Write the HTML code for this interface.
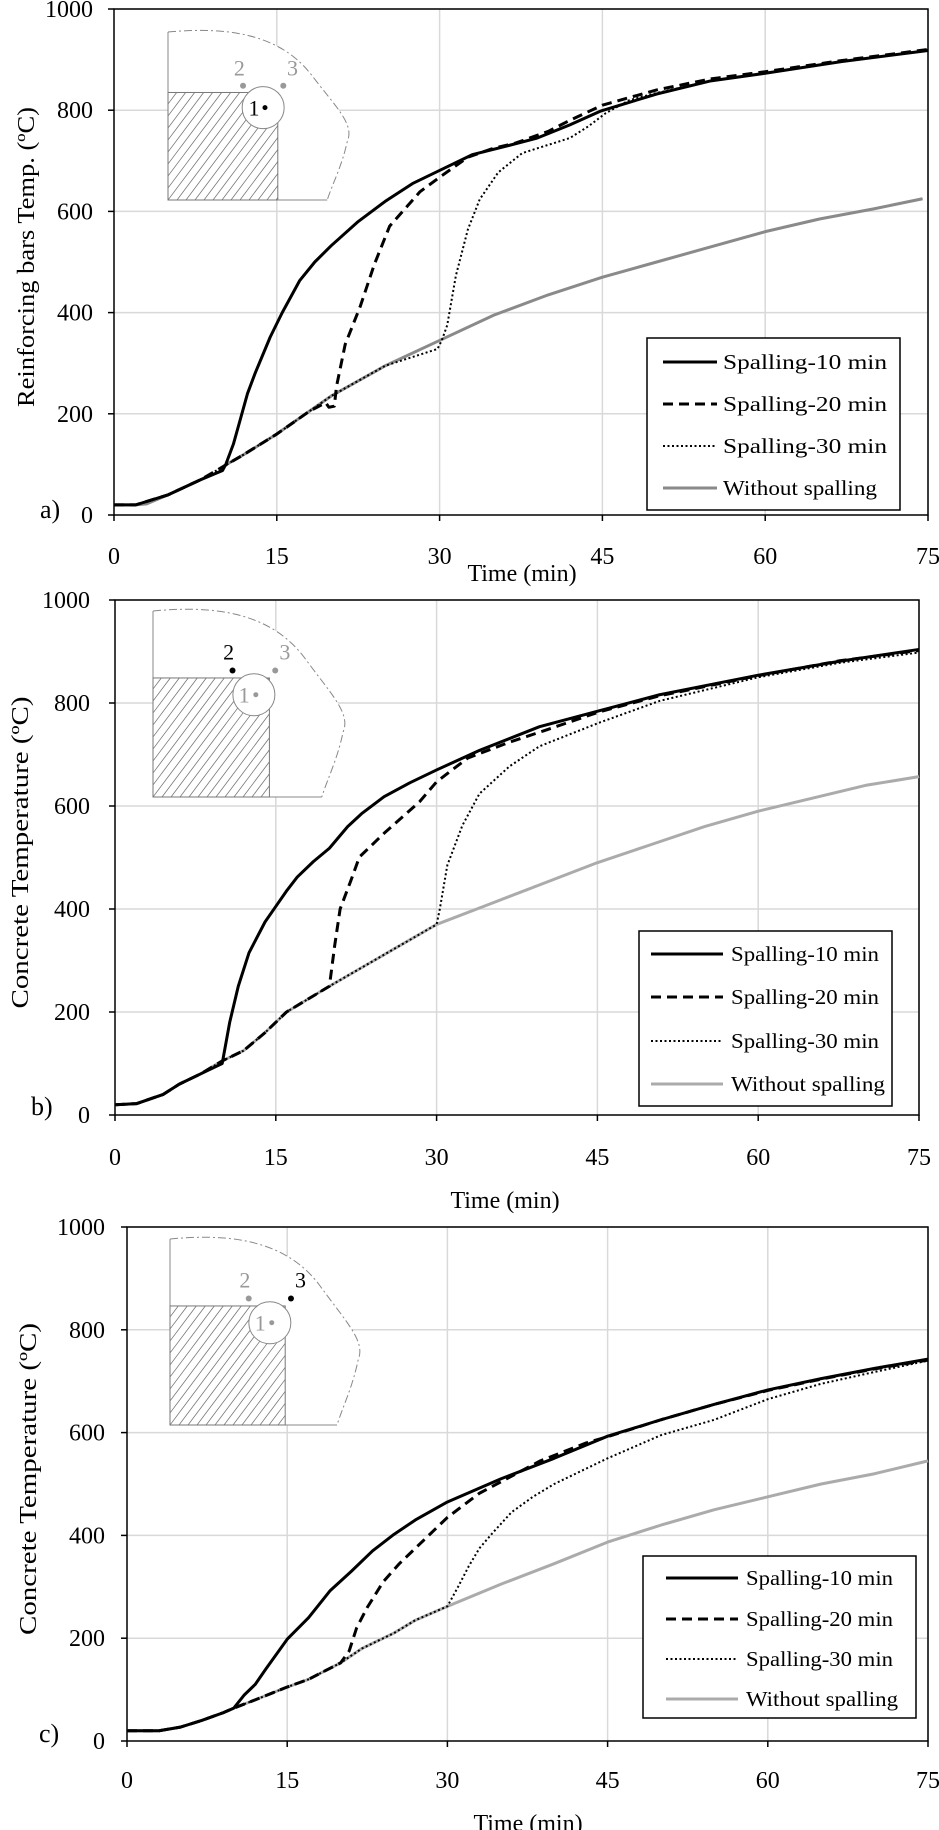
<!DOCTYPE html>
<html><head><meta charset="utf-8"><style>
html,body{margin:0;padding:0;background:#fff;}
svg{display:block;font-family:"Liberation Serif",serif;}
</style></head><body>
<svg id="fig" width="939" height="1830" viewBox="0 0 939 1830"></svg>
<script>
// ---- data (time min, temperature °C) ----
const timeTicks = [0,15,30,45,60,75];
const tempTicks = [0,200,400,600,800,1000];
const seriesNames = ["Spalling-10 min","Spalling-20 min","Spalling-30 min","Without spalling"];

const aS10 = [[0,20],[2,20],[5,40],[8,70],[10,88],[10.3,100],[11,140],[11.6,186],[12.3,240],[13,280],[14.4,352],[15.5,400],[17.1,463],[18.5,500],[20,532],[22.5,580],[25,620],[27.5,655],[30,681],[33,712],[36.5,731],[39,745],[42,771],[44.8,798],[50,832],[55,858],[60,873],[67,896],[75,918]];
const aS20 = [[0,20],[2,20],[5,40],[8,70],[10,95],[12,120],[15,160],[18,205],[19.5,222],[19.8,213],[20.3,215],[20.5,254],[21.3,337],[22.7,413],[24,496],[25.4,571],[28.2,639],[30.1,669],[32.6,707],[35,725],[37,735],[40,758],[42,780],[45,810],[50,840],[55,862],[60,876],[67,898],[75,920]];
const aS30 = [[0,20],[2,20],[5,40],[8,70],[10,95],[12,120],[15,160],[18,205],[20,235],[25,295],[29.8,328],[30.2,345],[30.7,375],[31.5,473],[32.6,564],[33.7,624],[35.4,677],[37.6,715],[39.2,726],[42,745],[43.7,768],[45.3,794],[47.5,820],[50,834],[55,858],[60,873],[67,896],[75,918]];
const aNo = [[0,20],[2,20],[3,22],[5,40],[8,70],[10,88],[10.2,98],[12,120],[15,160],[18,205],[20,235],[25,295],[30,345],[35,395],[40,435],[45,470],[50,500],[55,530],[60,560],[65,585],[70,605],[74.5,625]];

const bS10 = [[0,20],[2,22],[4.5,40],[6,60],[8,80],[10,100],[10.7,180],[11.5,250],[12.5,315],[14,375],[15,405],[16,435],[17,462],[18.5,492],[20,518],[21.7,560],[23,585],[25.1,618],[27.5,645],[30,670],[34,708],[39.6,754],[45.2,785],[50.8,816],[60,854],[67.6,881],[75,904]];
const bS20 = [[0,20],[2,22],[4.5,40],[6,60],[8,80],[10,105],[12,125],[14,160],[16,200],[20,250],[20.5,330],[21,400],[22,455],[22.8,501],[25.1,547],[28.4,608],[30,647],[32.9,693],[36.8,724],[40,746],[45.2,783],[50.8,814],[60,853],[67.6,882],[75,902]];
const bS30 = [[0,20],[2,22],[4.5,40],[6,60],[8,80],[10,105],[12,125],[14,160],[16,200],[20,250],[25,310],[30,370],[30.3,400],[31,485],[32.4,562],[34,624],[36.8,677],[39.6,716],[45.2,762],[50.8,804],[60,850],[67.6,878],[75,898]];
const bNo = [[0,20],[2,22],[4.5,40],[6,60],[8,80],[10,105],[12,125],[14,160],[16,200],[20,250],[25,310],[30,370],[35,410],[40,450],[45,490],[50,525],[55,560],[60,590],[65,615],[70,640],[75,657]];

const cS10 = [[0,20],[3,20],[5,27],[7,40],[9,55],[10,64],[11,90],[12,110],[13,140],[15,198],[17,240],[19,292],[21,330],[23,370],[25,402],[27,430],[30,465],[35,510],[40,550],[45,593],[50,625],[55,655],[60,683],[65,705],[70,725],[75,743]];
const cS20 = [[0,20],[3,20],[5,27],[7,40],[9,55],[10,64],[12,80],[15,105],[17,120],[20,152],[20.8,175],[21.5,220],[22.5,260],[24,310],[25.5,345],[26.9,373],[30,435],[33,482],[38.7,545],[43,580],[45,592],[50,625],[55,655],[60,682],[65,704],[70,724],[75,741]];
const cS30 = [[0,20],[3,20],[5,27],[7,40],[9,55],[10,64],[12,80],[15,105],[17,120],[20,152],[22,180],[25,210],[27,235],[30,262],[31,300],[32,340],[33,375],[34.2,404],[36,445],[38,475],[40,500],[45,550],[50,595],[55,625],[60,665],[65,695],[70,718],[75,740]];
const cNo = [[0,20],[3,20],[5,27],[7,40],[9,55],[10,64],[12,80],[15,105],[17,120],[20,152],[22,180],[25,210],[27,235],[30,262],[35,305],[40,345],[45,387],[50,420],[55,450],[60,475],[65,500],[70,520],[75,545]];

const NS="http://www.w3.org/2000/svg";
const svg=document.getElementById('fig');
function mk(tag,attrs,parent){const e=document.createElementNS(NS,tag);for(const k in attrs)e.setAttribute(k,attrs[k]);(parent||svg).appendChild(e);return e;}

const charts=[
 {id:'a',x0:114,x1:928,y0:515,y1:9,grayCol:'#8a8a8a',data:[aS10,aS20,aS30,aNo],
  ytitle:'Reinforcing bars Temp. (ºC)',ytx:26,ytlen:300,ylabR:93,xtickY:556,xtitleY:573,xtitleX:522,
  letter:'a)',lx:40,ly:514,
  leg:{x:647,y:338,w:253,h:172,lx0:663,lx1:717,tx:723,rows:[362,404,446,488],tl:[164,164,164,154]},
  inset:{x:168,y:32,w:183,h:168,cols:['#000','#999','#999']}},
 {id:'b',x0:115,x1:919,y0:1115,y1:600,grayCol:'#ababab',data:[bS10,bS20,bS30,bNo],
  ytitle:'Concrete Temperature (ºC)',ytx:20,ytlen:312,ylabR:90,xtickY:1157,xtitleY:1200,xtitleX:505,
  letter:'b)',lx:31,ly:1111,
  leg:{x:639,y:931,w:253,h:175,lx0:651,lx1:723,tx:731,rows:[954,997,1041,1084],tl:[148,148,148,154]},
  inset:{x:153,y:611,w:194,h:186,cols:['#999','#000','#999']}},
 {id:'c',x0:127,x1:928,y0:1741,y1:1227,grayCol:'#ababab',data:[cS10,cS20,cS30,cNo],
  ytitle:'Concrete Temperature (ºC)',ytx:28,ytlen:312,ylabR:105,xtickY:1780,xtitleY:1823,xtitleX:528,
  letter:'c)',lx:39,ly:1738,
  leg:{x:643,y:1556,w:273,h:162,lx0:666,lx1:738,tx:746,rows:[1578,1619,1659,1699],tl:[147,147,147,152]},
  inset:{x:170,y:1239,w:192,h:186,cols:['#999','#999','#000']}}
];

charts.forEach(c=>{
 const g=mk('g',{});
 
 
 const X=t=>c.x0+(t-0)/75*(c.x1-c.x0);
 const Y=v=>c.y0-(v/1000)*(c.y0-c.y1);
 tempTicks.forEach(v=>{if(v>0){const l=mk('line',{x1:c.x0,x2:c.x1,y1:Y(v),y2:Y(v),stroke:'#d9d9d9','stroke-width':1.5},g);
  }});
 timeTicks.forEach(t=>{if(t>0){const l=mk('line',{x1:X(t),x2:X(t),y1:c.y1,y2:c.y0,stroke:'#d9d9d9','stroke-width':1.5},g);
  }});
 const I=c.inset, ig=mk('g',{},g);
 
 const px=f=>I.x+f*I.w, py=f=>I.y+f*I.h;
 mk('path',{d:`M${px(0)},${py(0)} C${px(0.3)},${py(-0.03)} ${px(0.6)},${py(0)} ${px(0.78)},${py(0.25)} C${px(0.92)},${py(0.45)} ${px(1.02)},${py(0.55)} ${px(0.98)},${py(0.65)} C${px(0.95)},${py(0.8)} ${px(0.9)},${py(0.9)} ${px(0.87)},${py(1)} L${px(0)},${py(1)} Z`,fill:'#fff',stroke:'none'},ig);
 mk('path',{d:`M${px(0)},${py(0)} C${px(0.3)},${py(-0.03)} ${px(0.6)},${py(0)} ${px(0.78)},${py(0.25)} C${px(0.92)},${py(0.45)} ${px(1.02)},${py(0.55)} ${px(0.98)},${py(0.65)} C${px(0.95)},${py(0.8)} ${px(0.9)},${py(0.9)} ${px(0.87)},${py(1)}`,fill:'none',stroke:'#888','stroke-width':1,'stroke-dasharray':'8 3 2 3'},ig);
 mk('line',{x1:px(0),y1:py(0),x2:px(0),y2:py(1),stroke:'#888','stroke-width':1},ig);
 mk('line',{x1:px(0),y1:py(1),x2:px(0.87),y2:py(1),stroke:'#888','stroke-width':1},ig);
 const clipId='clip'+c.id;
 const cp=mk('clipPath',{id:clipId},ig);mk('rect',{x:px(0),y:py(0.36),width:px(0.6)-px(0),height:py(1)-py(0.36)},cp);
 const hg=mk('g',{'clip-path':`url(#${clipId})`},ig);
 for(let k=-20;k<20;k++){const x=px(0)+k*9;mk('line',{x1:x,y1:py(1),x2:x+(py(1)-py(0.36))*0.75,y2:py(0.36),stroke:'#777','stroke-width':0.8},hg);}
 mk('rect',{x:px(0),y:py(0.36),width:px(0.6)-px(0),height:py(1)-py(0.36),fill:'none',stroke:'#777','stroke-width':1},ig);
 mk('ellipse',{cx:px(0.52),cy:py(0.45),rx:21,ry:21,fill:'#fff',stroke:'#888','stroke-width':1},ig);
 mk('circle',{cx:px(0.53),cy:py(0.45),r:2.5,fill:I.cols[0]},ig);
 mk('circle',{cx:px(0.41),cy:py(0.32),r:3,fill:I.cols[1]},ig);
 mk('circle',{cx:px(0.63),cy:py(0.32),r:3,fill:I.cols[2]},ig);
 const t1=mk('text',{x:px(0.47),y:py(0.45)+8,'font-size':22,'text-anchor':'middle',fill:I.cols[0]==='#000'?'#000':'#999'},ig);t1.textContent='1';
 const t2=mk('text',{x:px(0.39),y:py(0.26),'font-size':22,'text-anchor':'middle',fill:I.cols[1]},ig);t2.textContent='2';
 const t3=mk('text',{x:px(0.68),y:py(0.26),'font-size':22,'text-anchor':'middle',fill:I.cols[2]},ig);t3.textContent='3';
 const fr=mk('rect',{x:c.x0,y:c.y1,width:c.x1-c.x0,height:c.y0-c.y1,fill:'none',stroke:'#000','stroke-width':1.5},g);
 
 tempTicks.forEach(v=>{mk('line',{x1:c.x0-6,x2:c.x0,y1:Y(v),y2:Y(v),stroke:'#000','stroke-width':1.5},g);
  const t=mk('text',{x:c.ylabR,y:Y(v)+8,'font-size':24,'text-anchor':'end'},g);t.textContent=v;
  });
 timeTicks.forEach(tv=>{mk('line',{x1:X(tv),x2:X(tv),y1:c.y0,y2:c.y0+6,stroke:'#000','stroke-width':1.5},g);
  const t=mk('text',{x:X(tv),y:c.xtickY+8,'font-size':24,'text-anchor':'middle'},g);t.textContent=tv;
  });
 const xt=mk('text',{x:c.xtitleX,y:c.xtitleY+8,'font-size':24,'text-anchor':'middle'},g);xt.textContent='Time (min)';
 
 const ymid=(c.y0+c.y1)/2-5;
 const yt=mk('text',{x:0,y:0,'font-size':24,'text-anchor':'middle',textLength:c.ytlen,lengthAdjust:'spacingAndGlyphs',transform:`translate(${c.ytx+8},${ymid}) rotate(-90)`},g);yt.textContent=c.ytitle;
 
 const lt=mk('text',{x:c.lx,y:c.ly+4,'font-size':26},g);lt.textContent=c.letter;
 
 const styles=[{s:'#000',w:3,d:''},{s:'#000',w:3,d:'10 6'},{s:'#000',w:2,d:'2 2.5'},{s:c.grayCol,w:3,d:''}];
 const order=[3,0,1,2];
 order.forEach(i=>{
  const pts=c.data[i].map(p=>X(p[0])+','+Y(p[1])).join(' ');
  const pl=mk('polyline',{points:pts,fill:'none',stroke:styles[i].s,'stroke-width':styles[i].w,'stroke-dasharray':styles[i].d,'stroke-linejoin':'round'},g);
  
  
 });
 const L=c.leg, lg=mk('g',{},g);
 
 mk('rect',{x:L.x,y:L.y,width:L.w,height:L.h,fill:'#fff',stroke:'#000','stroke-width':1.5},lg);
 seriesNames.forEach((n,i)=>{
  const e=mk('g',{},lg);
  
  mk('line',{x1:L.lx0,x2:L.lx1,y1:L.rows[i],y2:L.rows[i],stroke:styles[i].s,'stroke-width':styles[i].w,'stroke-dasharray':styles[i].d},e);
  const t=mk('text',{x:L.tx,y:L.rows[i]+7,'font-size':21,textLength:L.tl[i],lengthAdjust:'spacingAndGlyphs'},e);t.textContent=n;
 });
});
</script>
</body></html>
